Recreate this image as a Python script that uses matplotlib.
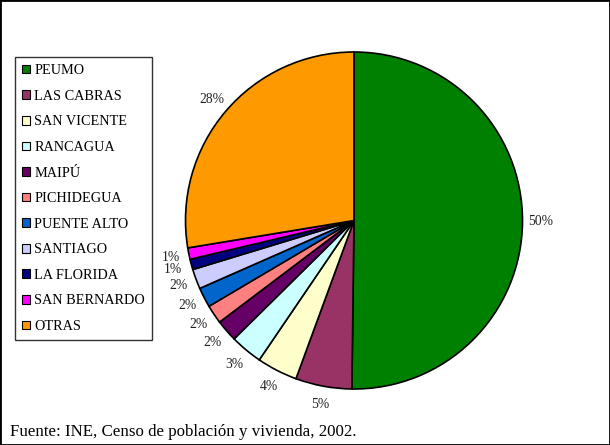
import matplotlib
matplotlib.use("Agg")
import matplotlib.pyplot as plt
from matplotlib.patches import Patch, Rectangle

plt.rcParams['font.family'] = ['Liberation Serif', 'DejaVu Serif']

comunas = ["PEUMO", "LAS CABRAS", "SAN VICENTE", "RANCAGUA", "MAIPÚ", "PICHIDEGUA",
           "PUENTE ALTO", "SANTIAGO", "LA FLORIDA", "SAN BERNARDO", "OTRAS"]
porcentajes = [50.2, 5.4, 3.9, 3.1, 2.1, 1.8, 1.9, 1.9, 1.0, 1.1, 27.6]
colores = ["#008000", "#993366", "#FFFFCC", "#CCFFFF", "#660066", "#FF8080",
           "#0066CC", "#CCCCFF", "#000080", "#FF00FF", "#FF9900"]
fuente = "Fuente: INE, Censo de población y vivienda, 2002."

W, H = 610, 445
fig = plt.figure(figsize=(W / 100, H / 100), dpi=100)

cx, cy, r = 354, 220.5, 168.5
lim = 1.3
half = lim * r
ax = fig.add_axes([(cx - half) / W, (H - cy - half) / H, 2 * half / W, 2 * half / H])

wedges, texts, autotexts = ax.pie(
    porcentajes, colors=colores, startangle=90, counterclock=False,
    autopct=lambda p: f"{p:.0f}%", pctdistance=1.11,
    wedgeprops=dict(edgecolor="black", linewidth=1.2),
    textprops=dict(fontsize=9.8, color="#222222"))
ax.set_xlim(-lim, lim)
ax.set_ylim(-lim, lim)
ax.set_aspect('equal')
ax.axis('off')

handles = [Patch(facecolor=c, edgecolor="black", linewidth=0.8) for c in colores]
leg = fig.legend(handles, comunas, loc="upper left",
                 bbox_to_anchor=(15 / W, 1 - 57 / H), bbox_transform=fig.transFigure,
                 fontsize=10.3, frameon=True, fancybox=False, edgecolor="black",
                 handlelength=0.55, handleheight=0.55, handletextpad=0.3,
                 labelspacing=0.88, borderpad=0.5, borderaxespad=0)
leg.get_frame().set_linewidth(1.0)

fig.text(10 / W, 1 - 432 / H, fuente, fontsize=12.2, ha="left", va="center")

fig.patches.append(Rectangle((0, 0), 1, 1, transform=fig.transFigure, fill=False,
                             edgecolor="black", linewidth=2))

fig.savefig("out.png", dpi=100)
